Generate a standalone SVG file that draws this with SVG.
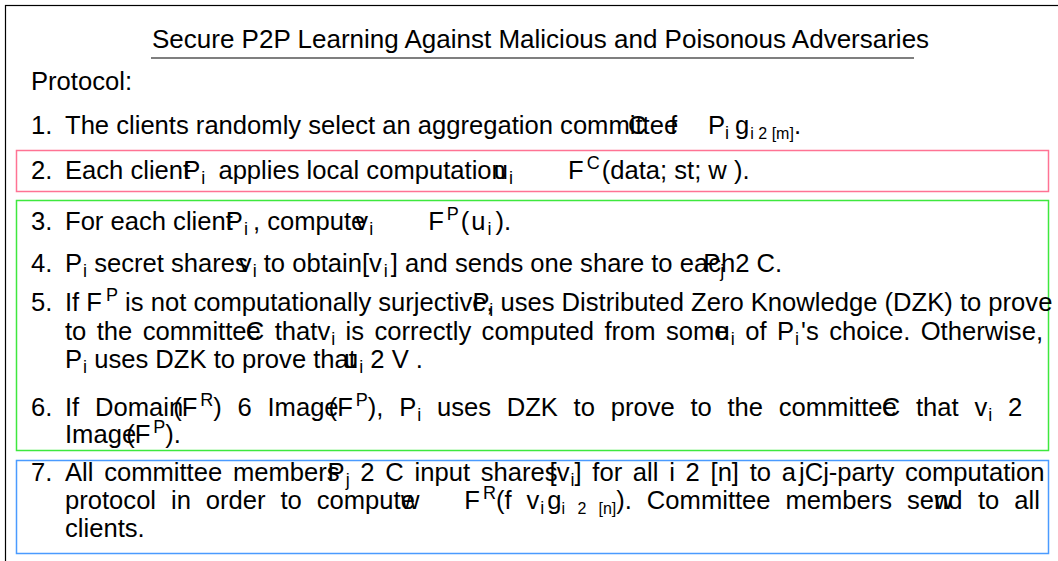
<svg xmlns="http://www.w3.org/2000/svg" width="1058" height="561" viewBox="0 0 1058 561" xml:space="preserve">
<style>
.t{font-family:"Liberation Sans",Arial,sans-serif;font-size:25.6px;fill:#000}
.s{font-size:18px}
.ss{font-size:16px}
.box{fill:none;stroke-width:1.5}
</style>
<rect x="0" y="0" width="1058" height="561" fill="#fff"/>
<rect x="5.5" y="5.5" width="1100" height="600" fill="none" stroke="#000" stroke-width="1.2"/>
<g id="title">
<text class="t" x="152" y="48" style="font-size:26px">Secure P2P Learning Against Malicious and Poisonous Adversaries</text>
<line x1="151" y1="58" x2="914" y2="58" stroke="#000" stroke-width="1.2"/>
</g>
<g id="protocol">
<text class="t" x="31" y="90">Protocol:</text>
</g>
<g id="step1">
<text class="t" x="31" y="134">1.</text>
<text class="t" x="65" y="134">The clients randomly select an aggregation committee</text>
<text class="t" x="628" y="134">C</text>
<text class="t" x="670" y="134">f</text>
<text class="t" x="708" y="134">P<tspan class="s" dy="5">i</tspan><tspan dy="-5" dx="6">g</tspan><tspan class="ss" dy="5" dx="1">i 2 [m]</tspan><tspan dy="-5">.</tspan></text>
</g>
<g id="step2">
<rect class="box" x="16.5" y="150.5" width="1032" height="41" stroke="#ff7394"/>
<text class="t" x="31" y="179">2.</text>
<text class="t" x="65" y="179">Each client<tspan dx="-7">P</tspan><tspan class="s" dy="5" dx="1">i</tspan><tspan dy="-5" dx="6"> applies local computation</tspan><tspan dx="-12">u</tspan><tspan class="s" dy="5" dx="1">i</tspan><tspan dy="-5" dx="55">F</tspan><tspan class="s" dy="-10" dx="3">C</tspan><tspan dy="10" dx="2">(data; st; w ).</tspan></text>
</g>
<g id="step3to6">
<rect class="box" x="16.5" y="200.5" width="1032" height="250" stroke="#3ee83e"/>
<text class="t" x="31" y="230">3.</text>
<text class="t" x="65" y="230">For each client<tspan dx="-7">P</tspan><tspan class="s" dy="5" dx="1">i</tspan><tspan dy="-5" dx="5">, compute</tspan><tspan dx="-10">v</tspan><tspan class="s" dy="5" dx="1">i</tspan><tspan dy="-5" dx="55">F</tspan><tspan class="s" dy="-10" dx="3">P</tspan><tspan dy="10" dx="2">(</tspan><tspan dx="2">u</tspan><tspan class="s" dy="5" dx="2">i</tspan><tspan dy="-5" dx="4">).</tspan></text>
<text class="t" x="31" y="272">4.</text>
<text class="t" x="65" y="272">P<tspan class="s" dy="5" dx="1">i</tspan><tspan dy="-5"> secret shares</tspan><tspan dx="-9">v</tspan><tspan class="s" dy="5" dx="1">i</tspan><tspan dy="-5"> to obtain[v</tspan><tspan class="s" dy="5" dx="2">i</tspan><tspan dy="-5" dx="3">] and sends one share to each</tspan><tspan dx="-32">P</tspan><tspan class="s" dy="5">j</tspan><tspan dy="-5" dx="11">2  C.</tspan></text>
<text class="t" x="31" y="311">5.</text>
<text class="t" x="65" y="311">If F<tspan class="s" dy="-10" dx="4">P</tspan><tspan dy="10"> is not computationally surjective</tspan><tspan dx="-14">P</tspan><tspan>,</tspan><tspan class="s" dy="5" dx="-4">i</tspan><tspan dy="-5"> uses Distributed Zero Knowledge (DZK) to prove</tspan></text>
<text class="t" x="65" y="340" word-spacing="3.3">to the committee<tspan dx="-15">C</tspan><tspan> that</tspan><tspan>v</tspan><tspan class="s" dy="5" dx="1">i</tspan><tspan dy="-5"> is correctly computed from some</tspan><tspan dx="-13">u</tspan><tspan class="s" dy="5" dx="1">i</tspan><tspan dy="-5"> of P</tspan><tspan class="s" dy="5" dx="1">i</tspan><tspan dy="-5" dx="2">'s choice. Otherwise,</tspan></text>
<text class="t" x="65" y="368">P<tspan class="s" dy="5" dx="1">i</tspan><tspan dy="-5"> uses DZK to prove that</tspan><tspan dx="-12">u</tspan><tspan class="s" dy="5" dx="1">i</tspan><tspan dy="-5">  2  V .</tspan></text>
<text class="t" x="31" y="416">6.</text>
<text class="t" x="65" y="416" word-spacing="8.6">If Domain<tspan dx="-10">(</tspan><tspan>F</tspan><tspan class="s" dy="-10" dx="3">R</tspan><tspan dy="10">) 6</tspan><tspan dx="0"> Image</tspan><tspan dx="-10">(</tspan><tspan>F</tspan><tspan class="s" dy="-10" dx="3">P</tspan><tspan dy="10">), P</tspan><tspan class="s" dy="5" dx="1">i</tspan><tspan dy="-5"> uses DZK to prove to the committee</tspan><tspan dx="-15">C</tspan><tspan> that v</tspan><tspan class="s" dy="5" dx="1">i</tspan><tspan dy="-5">  2</tspan></text>
<text class="t" x="65" y="443">Image<tspan dx="-10">(</tspan><tspan>F</tspan><tspan class="s" dy="-10" dx="3">P</tspan><tspan dy="10">).</tspan></text>
</g>
<g id="step7">
<rect class="box" x="16.5" y="460.5" width="1032" height="93" stroke="#4a9bff"/>
<text class="t" x="31" y="481">7.</text>
<text class="t" x="65" y="481" word-spacing="3.6">All committee members<tspan dx="-12">P</tspan><tspan class="s" dy="5" dx="1">j</tspan><tspan dy="-5">  2  C input shares</tspan><tspan dx="-8">[</tspan><tspan>v</tspan><tspan class="s" dy="5" dx="1">i</tspan><tspan dy="-5">] for all i  2  [n] to a</tspan><tspan dx="3">jCj-party computation</tspan></text>
<text class="t" x="65" y="509" word-spacing="7.8">protocol in order to compute<tspan dx="-14">w</tspan><tspan dx="45">F</tspan><tspan class="s" dy="-10" dx="3">R</tspan><tspan dy="10">(f v</tspan><tspan class="s" dy="5" dx="1">i</tspan><tspan dy="-5" dx="3">g</tspan><tspan class="ss" dy="5">i 2 [n]</tspan><tspan dy="-5">).  Committee members send</tspan><tspan dx="-28">w</tspan><tspan dx="10"> to all</tspan></text>
<text class="t" x="65" y="537">clients.</text>
</g>
</svg>
